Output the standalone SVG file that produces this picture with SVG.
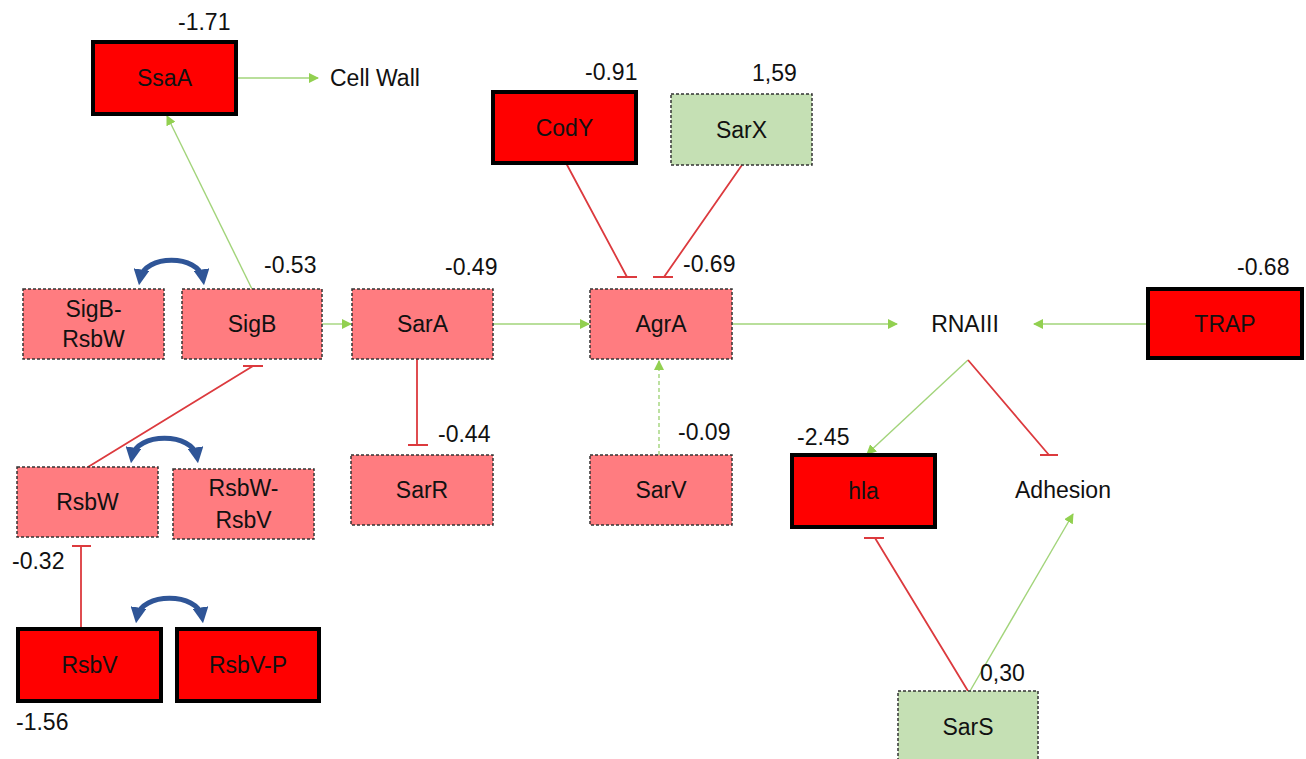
<svg xmlns="http://www.w3.org/2000/svg" width="1306" height="759" viewBox="0 0 1306 759">
<defs>
<style>
text{font-family:"Liberation Sans",Arial,sans-serif;font-size:23px;fill:#111}
.lbl{text-anchor:middle}
.red{fill:#ff0000;stroke:#000;stroke-width:4}
.pink{fill:#ff7c80;stroke:#333;stroke-width:1.5;stroke-dasharray:3 2}
.lg{fill:#c5e0b4;stroke:#333;stroke-width:1.5;stroke-dasharray:3 2}
.act{stroke:#a2d47a;stroke-width:1.4;fill:none;marker-end:url(#ga)}
.inh{stroke:#dc3a3e;stroke-width:1.8;fill:none}
.blue{stroke:#2f5597;stroke-width:5;fill:none;marker-start:url(#ba);marker-end:url(#ba)}
</style>
<marker id="ga" viewBox="0 0 10 10" refX="9" refY="5" markerWidth="10" markerHeight="10" markerUnits="userSpaceOnUse" orient="auto"><path d="M0,0 L10,5 L0,10 z" fill="#92d050"/></marker>
<marker id="ba" viewBox="0 0 10 10" refX="6" refY="5" markerWidth="16" markerHeight="16" markerUnits="userSpaceOnUse" orient="auto-start-reverse"><path d="M0,0 L10,5 L0,10 z" fill="#2f5597"/></marker>
</defs>
<rect width="1306" height="759" fill="#fff"/>
<g id="connectors">
<line class="act" x1="236" y1="78" x2="318" y2="78"/>
<line class="act" x1="252" y1="289" x2="167" y2="116"/>
<line class="act" x1="322" y1="324" x2="351" y2="324"/>
<line class="act" x1="493" y1="324" x2="589" y2="324"/>
<line class="act" x1="732" y1="324" x2="897" y2="324"/>
<line class="act" x1="1148" y1="324" x2="1034" y2="324"/>
<line class="act" x1="659" y1="455" x2="659" y2="361" stroke-dasharray="4 3"/>
<line class="act" x1="968" y1="360" x2="867" y2="454"/>
<line class="act" x1="970" y1="691" x2="1073" y2="514"/>
<path class="inh" d="M566,163 L627,277 M617,277 H637"/>
<path class="inh" d="M742,165 L664,277 M653,277 H673"/>
<path class="inh" d="M88,467 L253,366 M243,366 H263"/>
<path class="inh" d="M81,629 V546 M72,546 H91"/>
<path class="inh" d="M417,359 V445 M408,445 H428"/>
<path class="inh" d="M968,360 L1049,455 M1040,455 H1058"/>
<path class="inh" d="M968,691 L875,538 M864,538 H884"/>
<path class="blue" d="M140,279 C144,254 199,254 203,279"/>
<path class="blue" d="M132,457 C136,432 193,432 197,457"/>
<path class="blue" d="M137,617 C141,592 198,592 202,617"/>
</g>
<g id="SsaA"><rect class="red" x="93" y="42" width="143" height="72"/><text class="lbl" x="164.5" y="86">SsaA</text><text x="178" y="30">-1.71</text></g>
<g id="CellWall"><text x="330" y="86">Cell Wall</text></g>
<g id="CodY"><rect class="red" x="493" y="92" width="143" height="71"/><text class="lbl" x="564.5" y="136">CodY</text><text x="585" y="80">-0.91</text></g>
<g id="SarX"><rect class="lg" x="671" y="94" width="141" height="71"/><text class="lbl" x="741.5" y="138">SarX</text><text x="752" y="81">1,59</text></g>
<g id="SigB-RsbW"><rect class="pink" x="23" y="289" width="141" height="70"/><text class="lbl" x="93.5" y="317">SigB-</text><text class="lbl" x="93.5" y="347">RsbW</text></g>
<g id="SigB"><rect class="pink" x="182" y="289" width="140" height="70"/><text class="lbl" x="252" y="332">SigB</text><text x="264" y="273">-0.53</text></g>
<g id="SarA"><rect class="pink" x="352" y="289" width="141" height="70"/><text class="lbl" x="422.5" y="332">SarA</text><text x="445" y="275">-0.49</text></g>
<g id="AgrA"><rect class="pink" x="590" y="289" width="142" height="70"/><text class="lbl" x="661" y="332">AgrA</text><text x="683" y="272">-0.69</text></g>
<g id="RNAIII"><text class="lbl" x="965" y="332">RNAIII</text></g>
<g id="TRAP"><rect class="red" x="1148" y="289" width="154" height="69"/><text class="lbl" x="1225" y="332">TRAP</text><text x="1237" y="275">-0.68</text></g>
<g id="SarR"><rect class="pink" x="351" y="455" width="142" height="70"/><text class="lbl" x="422" y="498">SarR</text><text x="438" y="442">-0.44</text></g>
<g id="SarV"><rect class="pink" x="590" y="455" width="142" height="70"/><text class="lbl" x="661" y="498">SarV</text><text x="678" y="440">-0.09</text></g>
<g id="hla"><rect class="red" x="792" y="455" width="143" height="72"/><text class="lbl" x="863.5" y="499">hla</text><text x="797" y="445">-2.45</text></g>
<g id="Adhesion"><text class="lbl" x="1063" y="498">Adhesion</text></g>
<g id="RsbW"><rect class="pink" x="17" y="467" width="141" height="70"/><text class="lbl" x="87.5" y="510">RsbW</text><text x="12" y="569">-0.32</text></g>
<g id="RsbW-RsbV"><rect class="pink" x="173" y="469" width="141" height="70"/><text class="lbl" x="243.5" y="496">RsbW-</text><text class="lbl" x="243.5" y="528">RsbV</text></g>
<g id="RsbV"><rect class="red" x="18" y="629" width="143" height="72"/><text class="lbl" x="89.5" y="673">RsbV</text><text x="16" y="730">-1.56</text></g>
<g id="RsbV-P"><rect class="red" x="177" y="629" width="142" height="72"/><text class="lbl" x="248" y="673">RsbV-P</text></g>
<g id="SarS"><rect class="lg" x="898" y="691" width="140" height="75"/><text class="lbl" x="968" y="735">SarS</text><text x="980" y="681">0,30</text></g>
</svg>
